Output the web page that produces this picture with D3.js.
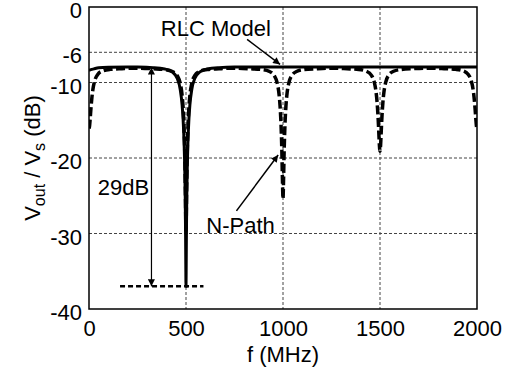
<!DOCTYPE html>
<html>
<head>
<meta charset="utf-8">
<script src="https://cdn.jsdelivr.net/npm/d3@7"></script>
<style>
  body { margin: 0; background: #fff; }
  text { font-family: "Liberation Sans", Arial, Helvetica, sans-serif; fill: #000; }
</style>
</head>
<body>
<div class="chart"></div>
<script>
// axis ticks
var xTicks = [0, 500, 1000, 1500, 2000];
var yTicks = [0, -6, -10, -20, -30, -40];
var xGrid = [500, 1000, 1500];
var yGrid = [-6, -10, -20, -30];

// RLC model (solid), MHz / dB
var rlcFreq = [0, 10, 25, 50, 100, 200, 250, 330, 390, 430, 455, 470, 480, 485, 490, 493, 496, 498, 499,
  500, 501, 502, 504, 507, 510, 515, 520, 530, 545, 570, 610, 670, 750, 1000, 1250, 1500, 1750, 2000];
var rlcDb = [-8.4, -8.3, -8.2, -8.05, -7.98, -7.95, -7.96, -8.03, -8.21, -8.62, -9.48, -10.88, -12.97, -14.83, -17.8, -20.6, -25.1, -30.3, -34.1,
  -37, -34.1, -30.3, -25.1, -20.6, -17.8, -14.83, -12.97, -10.88, -9.48, -8.62, -8.21, -8.03, -7.96, -7.95, -7.95, -7.95, -7.95, -7.95];

// N-path (dashed)
var npathFreq = [0, 3, 6, 10, 15, 20, 30, 45, 70, 110, 170, 250,
  330, 390, 430, 455, 470, 480, 485, 490, 494, 497, 500, 503, 506, 510, 515, 520, 530, 545, 570, 610, 670, 750,
  830, 890, 930, 955, 970, 980, 985, 990, 994, 997, 1000, 1003, 1006, 1010, 1015, 1020, 1030, 1045, 1070, 1110, 1170, 1250,
  1330, 1390, 1430, 1455, 1470, 1480, 1485, 1490, 1494, 1497, 1500, 1503, 1506, 1510, 1515, 1520, 1530, 1545, 1570, 1610, 1670, 1750,
  1830, 1890, 1930, 1955, 1970, 1980, 1985, 1990, 1994, 1997, 2000];
var npathDb = [-16.1, -15.73, -14.84, -13.44, -11.98, -10.93, -9.72, -8.93, -8.47, -8.26, -8.17, -8.1,
  -8.18, -8.28, -8.54, -9.1, -10.09, -11.72, -13.28, -15.94, -19.65, -24.44, -29.9, -24.44, -19.65, -15.94, -13.28, -11.72, -10.09, -9.1, -8.54, -8.28, -8.18, -8.1,
  -8.18, -8.28, -8.54, -9.09, -10.06, -11.65, -13.17, -15.68, -19.01, -22.67, -25.4, -22.67, -19.01, -15.68, -13.17, -11.65, -10.06, -9.09, -8.54, -8.28, -8.18, -8.1,
  -8.18, -8.27, -8.51, -9.02, -9.91, -11.33, -12.61, -14.56, -16.7, -18.33, -19.1, -18.33, -16.7, -14.56, -12.61, -11.33, -9.91, -9.02, -8.51, -8.27, -8.17, -8.1,
  -8.17, -8.26, -8.47, -8.93, -9.72, -10.93, -11.98, -13.44, -14.84, -15.73, -16.1];

var margin = {top: 7, right: 38, bottom: 62, left: 89};
var width = 515 - margin.left - margin.right,
    height = 371 - margin.top - margin.bottom;
var fontSize = "22px";

var svg = d3.select(".chart").append("svg")
    .attr("width", 515)
    .attr("height", 371);

var defs = svg.append("defs");
defs.append("clipPath").attr("id", "plot-clip")
  .append("rect").attr("width", width).attr("height", height);
defs.append("marker")
    .attr("id", "arrow")
    .attr("viewBox", "0 0 10 10")
    .attr("refX", 10).attr("refY", 5)
    .attr("markerUnits", "userSpaceOnUse")
    .attr("markerWidth", 9).attr("markerHeight", 7)
    .attr("orient", "auto-start-reverse")
  .append("path")
    .attr("d", "M0,0 L10,5 L0,10 z")
    .attr("fill", "#000");

var g = svg.append("g")
    .attr("transform", "translate(" + margin.left + "," + margin.top + ")");

var x = d3.scaleLinear().domain([0, 2000]).range([0, width]);
var y = d3.scaleLinear().domain([-40, 0]).range([height, 0]);

// grid
g.selectAll("line.ygrid").data(yGrid).enter().append("line")
    .attr("class", "ygrid")
    .attr("x1", 0).attr("x2", width)
    .attr("y1", function(d) { return y(d); })
    .attr("y2", function(d) { return y(d); })
    .attr("stroke", "#444").attr("stroke-width", 1)
    .attr("stroke-dasharray", "3,2");
g.selectAll("line.xgrid").data(xGrid).enter().append("line")
    .attr("class", "xgrid")
    .attr("y1", 0).attr("y2", height)
    .attr("x1", function(d) { return x(d); })
    .attr("x2", function(d) { return x(d); })
    .attr("stroke", "#444").attr("stroke-width", 1)
    .attr("stroke-dasharray", "3,2");

// axes (labels only, frame drawn separately)
var xAxis = g.append("g")
    .attr("transform", "translate(0," + height + ")")
    .call(d3.axisBottom(x).tickValues(xTicks).tickSize(0).tickPadding(11)
      .tickFormat(function(d) { return String(d); }));
var yAxis = g.append("g")
    .call(d3.axisLeft(y).tickValues(yTicks).tickSize(0).tickPadding(7)
      .tickFormat(function(d) { return String(d); }));
[xAxis, yAxis].forEach(function(a) {
  a.select(".domain").remove();
  a.selectAll("text").style("font-size", fontSize)
    .style("font-family", "'Liberation Sans', Arial, sans-serif");
});
yAxis.selectAll("text").attr("dy", "0.48em");

// series
var lineOf = function(fs, ds) {
  var pts = fs.map(function(f, i) { return [f, ds[i]]; });
  return d3.line()
    .x(function(d) { return x(d[0]); })
    .y(function(d) { return y(d[1]); })
    .curve(d3.curveMonotoneX)(pts);
};

var plot = g.append("g").attr("clip-path", "url(#plot-clip)");
plot.append("path")
    .attr("d", lineOf(npathFreq, npathDb))
    .attr("fill", "none").attr("stroke", "#000")
    .attr("stroke-width", 3.5)
    .attr("stroke-dasharray", "9,3.5");
plot.append("path")
    .attr("d", lineOf(rlcFreq, rlcDb))
    .attr("fill", "none").attr("stroke", "#000")
    .attr("stroke-width", 3);

// frame
g.append("rect")
    .attr("width", width).attr("height", height)
    .attr("fill", "none").attr("stroke", "#000").attr("stroke-width", 1.5);

// 29dB annotation
g.append("line")
    .attr("x1", x(322)).attr("x2", x(322))
    .attr("y1", y(-8)).attr("y2", y(-37))
    .attr("stroke", "#000").attr("stroke-width", 1.2)
    .attr("marker-start", "url(#arrow)")
    .attr("marker-end", "url(#arrow)");
g.append("line")
    .attr("x1", x(160)).attr("x2", x(590))
    .attr("y1", y(-37)).attr("y2", y(-37))
    .attr("stroke", "#000").attr("stroke-width", 2.5)
    .attr("stroke-dasharray", "5,3");
g.append("text")
    .attr("x", x(310)).attr("y", y(-24.9))
    .attr("text-anchor", "end")
    .style("font-size", fontSize)
    .text("29dB");

// RLC Model label
g.append("text")
    .attr("x", x(370)).attr("y", y(-3.8))
    .style("font-size", fontSize)
    .text("RLC Model");
g.append("line")
    .attr("x1", x(815)).attr("y1", y(-4.3))
    .attr("x2", x(985)).attr("y2", y(-7.6))
    .attr("stroke", "#000").attr("stroke-width", 1.5)
    .attr("marker-end", "url(#arrow)");

// N-Path label
g.append("text")
    .attr("x", x(605)).attr("y", y(-29.9))
    .style("font-size", fontSize)
    .text("N-Path");
g.append("line")
    .attr("x1", x(760)).attr("y1", y(-27))
    .attr("x2", x(975)).attr("y2", y(-19.6))
    .attr("stroke", "#000").attr("stroke-width", 1.5)
    .attr("marker-end", "url(#arrow)");

// axis titles
svg.append("text")
    .attr("x", margin.left + width / 2).attr("y", 362)
    .attr("text-anchor", "middle")
    .style("font-size", fontSize)
    .text("f (MHz)");

var yl = svg.append("text")
    .attr("transform", "translate(40," + (margin.top + height / 2) + ") rotate(-90)")
    .attr("text-anchor", "middle")
    .style("font-size", fontSize);
yl.append("tspan").text("V");
yl.append("tspan").attr("dy", 5).style("font-size", "16px").text("out");
yl.append("tspan").attr("dy", -5).text(" / V");
yl.append("tspan").attr("dy", 5).style("font-size", "16px").text("s");
yl.append("tspan").attr("dy", -5).text(" (dB)");
</script>
</body>
</html>
